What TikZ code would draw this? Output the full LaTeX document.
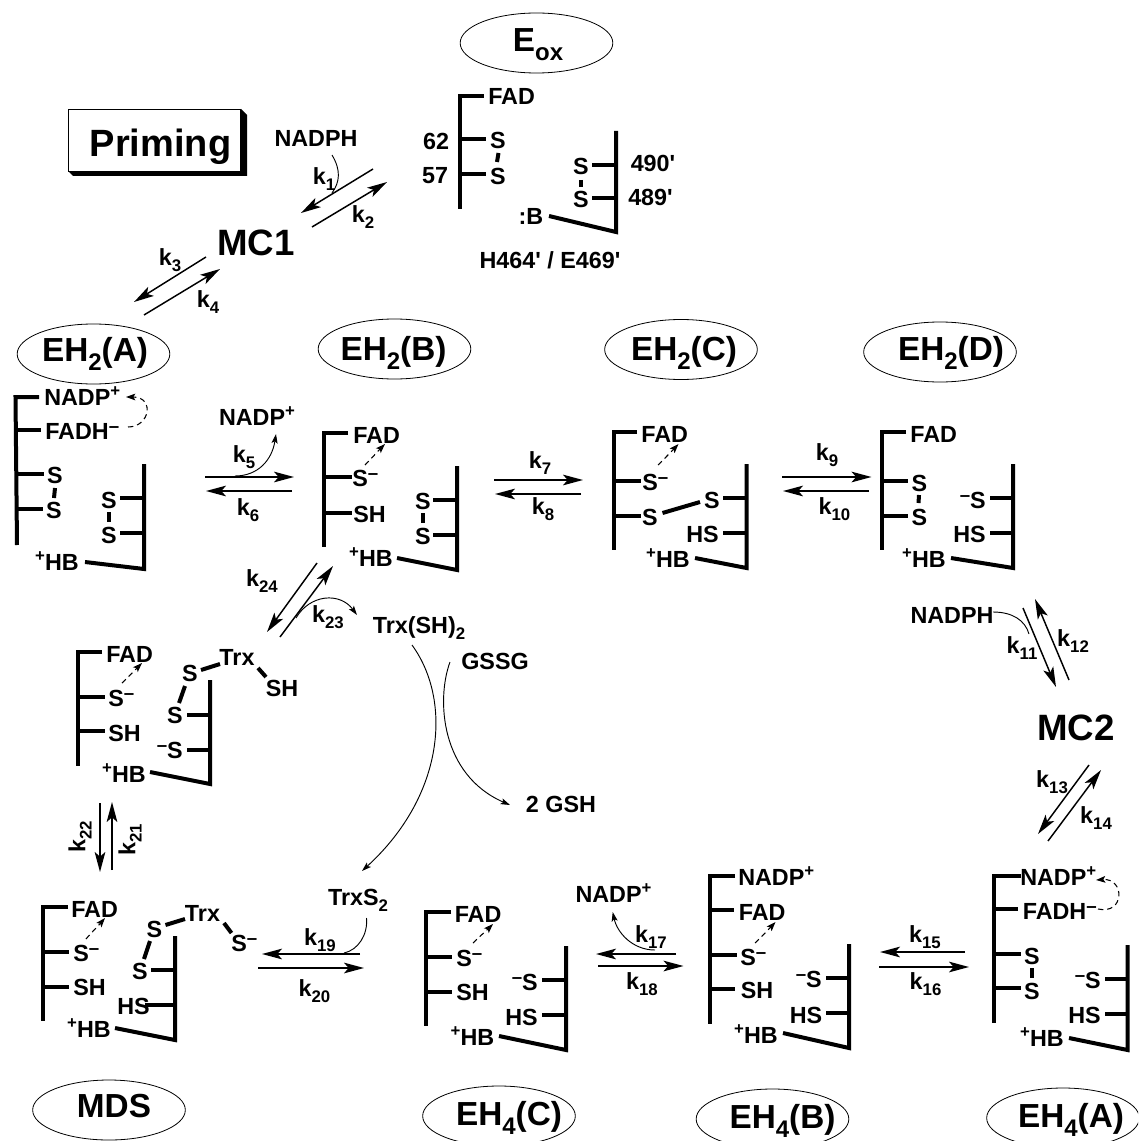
\documentclass[tikz,border=0pt]{standalone}
\usepackage{fontspec}
\usepackage{graphicx}
\setmainfont{Liberation Sans}
\newfontfamily\apfont{Liberation Sans}[Ligatures=Common]
\usetikzlibrary{arrows.meta,shapes.geometric}
\newcommand\sB[1]{\raisebox{-.27em}{\scalebox{.72}{#1}}}
\newcommand\pl{\raisebox{.38em}{\scalebox{.72}{+}}}
\newcommand\mn{\raisebox{.3em}{\scalebox{.8}{–}}}
\newcommand\ap{{\apfont\bfseries '}}
\newcommand\Tx[4][base]{\node[tx,anchor=#1] (#2) at (#3) {#4};}
\newcommand\Kk[3]{\node[tx,anchor=base,yshift=2pt] (#1) at (#2) {k\sB{#3}};}
\newcommand\Bg[3]{\node[big] (#1) at (#2) {#3};}
\newcommand\Ov[2]{\node[oval] (#1) at (#2) {};}
\newcommand\Rx[4][]{\coordinate (#2-s) at (#3); \coordinate (#2-e) at (#4); \draw[rxn,#1] (#2-s) -- (#2-e);}
\newcommand\Bd[1]{\draw[bond] #1;}
\newcommand\Hs[3]{\draw[bond] (#1,#3) -- (#2,#3);}
\newcommand\Cv[6][thinarr]{\coordinate (#2-s) at (#3); \coordinate (#2-e) at (#6); \draw[#1] (#2-s) .. controls (#4) and (#5) .. (#2-e);}
\tikzset{
  tx/.style={inner sep=0pt,font=\bfseries\fontsize{17.5}{18}\selectfont,yshift=-6pt},
  rot/.style={inner sep=0pt,font=\bfseries\fontsize{17.5}{18}\selectfont,rotate=90,anchor=center},
  big/.style={inner sep=0pt,font=\bfseries\fontsize{25}{26}\selectfont,anchor=base,yshift=-9pt},
  huge/.style={inner sep=0pt,font=\bfseries\fontsize{27.5}{28}\selectfont,anchor=base,yshift=-10pt},
  oval/.style={draw,ellipse,line width=.6pt,inner sep=0pt,minimum width=114.5pt,minimum height=45pt},
  bond/.style={line width=3pt,line join=miter},
  rxn/.style={line width=1.1pt,-{Stealth[length=15pt,width=8pt,inset=3.5pt]}},
  thinarr/.style={line width=.7pt,-{Stealth[length=7pt,width=4.5pt,inset=1.5pt]}},
  plain/.style={line width=.7pt},
  dasharr/.style={line width=.8pt,dash pattern=on 4pt off 3pt,-{Stealth[length=7pt,width=5pt,inset=1.5pt]}}
}
\begin{document}
\begin{tikzpicture}[x=0.75pt,y=-0.75pt]
\clip (0,0) rectangle (1138,1141);
\fill[white] (0,0) rectangle (1138,1141);

% ovals and titles
\Ov{oeox}{536.5,43}   \node[big] (teox) at (538,40) {E\sB{ox}};
\Ov{oa}{93.5,354}     \Bg{ta}{95,349.5}{EH\sB{2}(A)}
\Ov{ob}{394.5,349}    \Bg{tb}{393.5,348}{EH\sB{2}(B)}
\Ov{oc}{681,349.5}    \Bg{tc}{684,348}{EH\sB{2}(C)}
\Ov{od}{940,352}      \Bg{td}{951,348}{EH\sB{2}(D)}
\Ov{omds}{109,1110}   \Bg{tmds}{114,1105}{MDS}
\Ov{oe4c}{499,1116}   \Bg{te4c}{509,1113}{EH\sB{4}(C)}
\Ov{oe4b}{772.5,1119} \Bg{te4b}{782.5,1116}{EH\sB{4}(B)}
\Ov{oe4a}{1063,1118}  \Bg{te4a}{1071,1115}{EH\sB{4}(A)}

% Priming box
\fill[black] (68,171) -- (73,176) -- (247,176) -- (247,115) -- (241,109) -- cycle;
\node[draw,fill=white,line width=.7pt,minimum width=129.5pt,minimum height=46.5pt,inner sep=0pt] (prbox) at (154.5,140) {};
\node[huge,font=\bfseries\fontsize{28.5}{29}\selectfont] (prtext) at (160.5,143) {Priming};

\node[huge] (mc1) at (256,242) {MC1};
\node[huge] (mc2) at (1076,727) {MC2};

% ---- E_ox
\Bd{(483.5,96) -- (460,96) -- (460,209)}
\Hs{460}{486}{139} \Hs{460}{486}{174}
\Tx[base west]{eF}{488,97}{FAD}
\Tx{eS1}{498,141}{S} \Tx{eS2}{498,177}{S}
\Bd{(498.5,153) -- (497,162)}
\Tx{n62}{436,142}{62} \Tx{n57}{435,176}{57}
\Bd{(549,216) -- (616,232) -- (616,131)}
\Hs{592}{616}{165} \Hs{592}{616}{198}
\Tx{eS3}{581,167}{S} \Tx{eS4}{581,200}{S}
\Bd{(581,180) -- (581,187)}
\Tx{n490}{653,164}{490\ap} \Tx{n489}{650.5,198}{489\ap}
\Tx{eB}{531,216}{:B}
\Tx{hlab}{550,260}{H464\ap{} / E469\ap}

% ---- EH2(A)
\Bd{(39,397) -- (15.5,397) -- (17,545)}
\Hs{17}{41}{430} \Hs{17}{44}{474} \Hs{17}{43}{509}
\Tx[base west]{aN}{44,397}{NADP\pl}
\Tx[base west]{aF}{45,431}{FADH\mn}
\Tx{aS1}{55,475}{S} \Tx{aS2}{54,510}{S}
\Bd{(55,488) -- (54,498)}
\Bd{(85,562) -- (144,569) -- (144,464)}
\Hs{120}{144}{498} \Hs{120}{144}{533}
\Tx{aS3}{109,500}{S} \Tx{aS4}{109,535}{S}
\Bd{(109,512) -- (109,522)}
\Tx[base east]{aH}{79,562}{\pl HB}
\Cv[dasharr]{ad}{128,427}{150,427}{155,397}{126,397}

% ---- EH2(B)
\Bd{(348,433) -- (324,433) -- (324,547)}
\Hs{324}{352}{477} \Hs{324}{352}{513}
\Tx[base west]{bF}{353,435}{FAD}
\Tx[base west]{bS}{352,478}{S\mn}
\Tx[base west]{bSH}{353,514}{SH}
\Cv[dasharr]{bd}{365,465}{372,458}{378,451}{385,444}
\Bd{(397,558) -- (457,570) -- (457,466)}
\Hs{433}{457}{500} \Hs{433}{457}{535}
\Tx{bS3}{423,501}{S} \Tx{bS4}{423,536}{S}
\Bd{(423,513) -- (423,523)}
\Tx[base east]{bH}{393,558}{\pl HB}

% ---- EH2(C)
\Bd{(637,432) -- (613.5,432) -- (613.5,550)}
\Hs{613.5}{641}{481} \Hs{613.5}{641}{516}
\Tx[base west]{cF}{641,434}{FAD}
\Tx[base west]{cS}{642,482}{S\mn}
\Tx{cS2}{650,517}{S} \Tx{cS3}{712,500}{S}
\Bd{(662.5,513) -- (700,502)}
\Cv[dasharr]{cd}{658,465}{665,458}{672,451}{678.5,444}
\Bd{(695,558) -- (746.5,568) -- (746.5,464)}
\Hs{723}{746.5}{498} \Hs{723}{746.5}{533}
\Tx[base east]{cHS}{719,534}{HS}
\Tx[base east]{cH}{690,559}{\pl HB}

% ---- EH2(D)
\Bd{(906,432) -- (882,432) -- (882,550)}
\Hs{882}{908}{481} \Hs{882}{908}{516}
\Tx[base west]{dF}{910,434}{FAD}
\Tx{dS1}{919.5,483}{S} \Tx{dS2}{919.5,517}{S}
\Bd{(919,495) -- (918.5,503)}
\Bd{(951,558) -- (1013,568) -- (1013,464)}
\Hs{990}{1013}{498} \Hs{990}{1013}{533}
\Tx[base east]{dS3}{986,500}{\mn S}
\Tx[base east]{dHS}{986,534}{HS}
\Tx[base east]{dH}{946,559}{\pl HB}

% ---- Trx intermediate
\Bd{(102,652) -- (78,652) -- (78,766)}
\Hs{78}{105}{697} \Hs{78}{105}{731}
\Tx[base west]{tF}{106,654}{FAD}
\Tx[base west]{tS}{108,698}{S\mn}
\Tx[base west]{tSH}{108,733}{SH}
\Cv[dasharr]{td2}{122,683}{129,676}{135,670}{142,663}
\Tx{tS1}{190,673}{S} \Tx{tTrx}{237,657}{Trx}
\Tx{tSH2}{282,688}{SH} \Tx{tS2}{175,715}{S}
\Bd{(201,670) -- (220,664)}
\Bd{(258,668) -- (266,677)}
\Bd{(185,686) -- (179,703)}
\Bd{(150,772) -- (210,784) -- (210,680)}
\Hs{187}{210}{715} \Hs{187}{210}{750}
\Tx[base east]{tS3}{183,750}{\mn S}
\Tx[base east]{tH}{146,774}{\pl HB}

% ---- MDS
\Bd{(68,907) -- (43,907) -- (43,1021)}
\Hs{43}{69}{952} \Hs{43}{69}{987}
\Tx[base west]{mF}{71,909}{FAD}
\Tx[base west]{mS}{73,953}{S\mn}
\Tx[base west]{mSH}{73,987}{SH}
\Cv[dasharr]{md}{86,939}{92,932}{99,925}{105,918}
\Tx{mS1}{154.5,929}{S} \Tx{mTrx}{202.5,913}{Trx}
\Tx[base west]{mS4}{231,943}{S\mn}
\Tx{mS2}{140,971}{S}
\Bd{(165.5,925) -- (185,919)}
\Bd{(224,923) -- (231.5,933)}
\Bd{(150,941) -- (144,959)}
\Bd{(115,1028) -- (175,1040) -- (175,936)}
\Hs{151}{175}{970} \Hs{145}{175}{1005}
\Tx{mHS}{133.5,1006}{HS}
\Tx[base east]{mH}{111,1029}{\pl HB}

% ---- EH4(C)
\Bd{(451,912) -- (426,912) -- (426,1026)}
\Hs{426}{452}{957} \Hs{426}{452}{992}
\Tx[base west]{gF}{454.5,914}{FAD}
\Tx[base west]{gS}{456,958}{S\mn}
\Tx[base west]{gSH}{456,992}{SH}
\Cv[dasharr]{gd}{473,943}{480,936}{486,931}{493,924}
\Bd{(499,1036) -- (566,1050) -- (566,946)}
\Hs{542}{566}{980} \Hs{542}{566}{1015}
\Tx[base east]{gS3}{538,982}{\mn S}
\Tx[base east]{gHS}{538,1017}{HS}
\Tx[base east]{gH}{494.5,1037}{\pl HB}

% ---- EH4(B)
\Bd{(735,876) -- (710,876) -- (710,1024)}
\Hs{710}{734}{910} \Hs{710}{737}{955} \Hs{710}{735}{989}
\Tx[base west]{hN}{738,877}{NADP\pl}
\Tx[base west]{hF}{738.5,912}{FAD}
\Tx[base west]{hS}{740,957}{S\mn}
\Tx[base west]{hSH}{740.5,990}{SH}
\Cv[dasharr]{hd}{755,943}{762,936}{769,929}{775.5,922}
\Bd{(783,1033) -- (849,1048) -- (849,944)}
\Hs{826}{849}{978} \Hs{826}{849}{1013}
\Tx[base east]{hS3}{822,979}{\mn S}
\Tx[base east]{hHS}{822.5,1015}{HS}
\Tx[base east]{hH}{778,1035}{\pl HB}

% ---- EH4(A)
\Bd{(1021,876) -- (994,876) -- (994,1023)}
\Hs{994}{1018}{909} \Hs{994}{1021}{954} \Hs{994}{1021}{988}
\Tx[base west]{iN}{1020,877}{NADP\pl}
\Tx[base west]{iF}{1022.5,911}{FADH\mn}
\Tx{iS1}{1032,956}{S} \Tx{iS2}{1032,991}{S}
\Bd{(1032,968) -- (1032,978)}
\Cv[dasharr]{id}{1098,909}{1125,915}{1125,878}{1096,880}
\Bd{(1069,1038) -- (1127.5,1050) -- (1127.5,945)}
\Hs{1105}{1127.5}{979} \Hs{1105}{1127.5}{1014}
\Tx[base east]{iS3}{1101,980}{\mn S}
\Tx[base east]{iHS}{1101,1015}{HS}
\Tx[base east]{iH}{1064,1038}{\pl HB}

% ---- free species
\Tx{nadph1}{316,139}{NADPH}
\Tx{nadp1}{257,417}{NADP\pl}
\Tx{trxsh}{419,625}{Trx(SH)\sB{2}}
\Tx{gssg}{495,661}{GSSG}
\Tx{gsh}{561,804}{2 GSH}
\Tx{trxs}{358,897}{TrxS\sB{2}}
\Tx{nadp2}{613.5,894}{NADP\pl}
\Tx{nadph2}{952,615}{NADPH}

% ---- reaction arrows
\Rx{r1}{373,169}{301,213}
\Rx{r2}{312,227}{387,182}
\Rx{r3}{206,257}{134,302}
\Rx{r4}{144,315}{220,269}
\Rx{r5}{205,477}{294,477}
\Rx{r6}{292,491}{206,491}
\Rx{r7}{494,480}{583,480}
\Rx{r8}{581,494}{495,494}
\Rx{r9}{782,477}{871.5,477}
\Rx{r10}{869,491}{783,491}
\Rx{r11}{1023,608}{1056,687}
\Rx{r12}{1069,680}{1035,599}
\Rx{r13}{1089,765}{1038,834}
\Rx{r14}{1048,841}{1101,770}
\Rx{r15}{965,952}{880,952}
\Rx{r16}{879,967}{969,967}
\Rx{r17}{676,954}{596,954}
\Rx{r18}{598,966}{683.5,966}
\Rx{r19}{360,954}{262,954}
\Rx{r20}{258,968}{364,968}
\Rx{r21}{112,870}{112,802}
\Rx{r22}{100,803}{100,872}
\Rx{r23}{280,637}{333,566}
\Rx{r24}{317,563}{267,632}

% ---- curved arrows
\Cv[plain]{c1}{332,155}{341,170}{340,182}{332,193}
\Cv{c5}{235,476}{258,476}{272,460}{276,434}
\Cv{c23}{296,618}{310,594}{340,592}{357,615}
\Cv{cb1}{412,645}{452,700}{445,795}{362,871}
\Cv{cb2}{450,662}{436,700}{441,775}{510,805}
\Cv[plain]{c19}{366.5,918}{368,935}{358,950}{344,953}
\Cv{c17}{655,950}{632,950}{617,932}{612.7,912}
\Cv[plain]{c11}{993,612}{1012,612}{1025,620}{1029,634}

% ---- rate labels
\Kk{k1}{324,179}{1}
\Kk{k2}{363,217}{2}
\Kk{k3}{170,260}{3}
\Kk{k4}{208,302}{4}
\Kk{k5}{244,457}{5}
\Kk{k6}{248,510}{6}
\Kk{k7}{540,463}{7}
\Kk{k8}{543,509}{8}
\Kk{k9}{827,455}{9}
\Kk{k10}{834.5,509}{10}
\Kk{k11}{1022,648}{11}
\Kk{k12}{1073,641}{12}
\Kk{k13}{1052,782}{13}
\Kk{k14}{1096,818}{14}
\Kk{k15}{925,937}{15}
\Kk{k16}{925.5,984}{16}
\Kk{k17}{651,937}{17}
\Kk{k18}{642,984}{18}
\Kk{k19}{320,940}{19}
\Kk{k20}{314.5,991}{20}
\node[rot] (k21) at (130,840) {k\sB{21}};
\node[rot] (k22) at (80,837) {k\sB{22}};
\Kk{k23}{328,617}{23}
\Kk{k24}{262,581}{24}
\end{tikzpicture}
\end{document}
